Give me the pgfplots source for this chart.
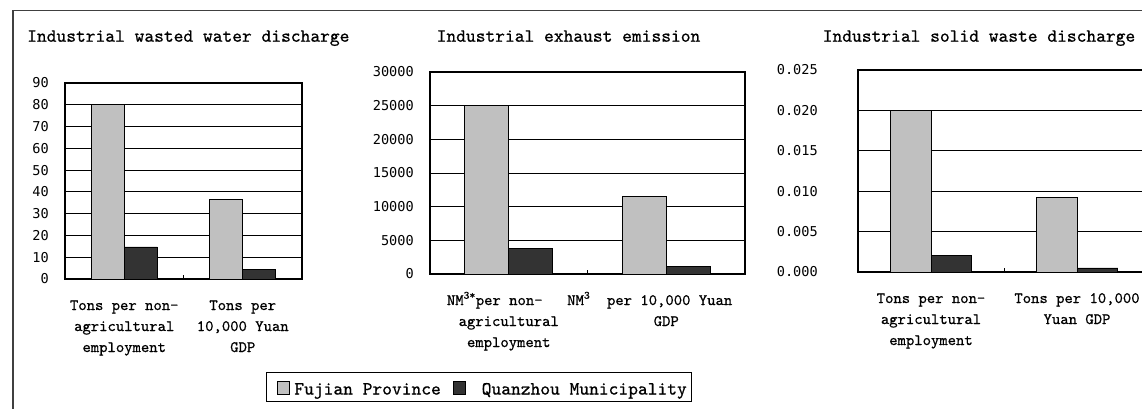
\documentclass[border=0pt]{standalone}
\usepackage{pgfplots}
\pgfplotsset{compat=1.18}
\usepackage{fontspec}
\newfontfamily\tickfont{DejaVu Sans Mono}
\newfontfamily\lmono{lmmono10-regular}[Extension=.otf, FakeBold=0.7]
\definecolor{fj}{HTML}{C0C0C0}
\definecolor{qz}{HTML}{333333}
\definecolor{framec}{HTML}{404040}
\newcommand{\lab}[1]{\begin{tabular}[t]{@{}c@{}}#1\end{tabular}}

\pgfplotsset{
  panel/.style={
    scale only axis,
    anchor=south west,
    ybar,
    bar width=0.28,
    xmin=-0.5, xmax=1.5,
    ymin=0,
    xtick={0,1},
    xtick pos=bottom,
    ytick pos=left,
    major tick length=0pt,
    extra x ticks={0.5},
    extra x tick labels={},
    extra x tick style={major tick length=4pt, tick align=inside, xmajorgrids=false, tick style={black, line width=1pt}},
    ymajorgrids,
    grid style={black, line width=0.9pt},
    axis line style={black, line width=1.1pt},
    scaled y ticks=false,
    yticklabel style={font=\fontsize{13.6}{16}\selectfont\tickfont, inner sep=0pt, anchor=east, xshift=-16pt},
    xticklabel style={font=\lmono\fontsize{15.9}{21}\selectfont, inner sep=0pt, anchor=base, yshift=-31pt},
    title style={font=\lmono\fontsize{18.6}{22}\selectfont, inner sep=0pt},
    clip=false,
  },
  fjbar/.style={fill=fj, draw=black, line width=0.9pt, bar shift=-0.14},
  qzbar/.style={fill=qz, draw=black, line width=0.9pt, bar shift=0.14},
}

\begin{document}
\begin{tikzpicture}
\useasboundingbox (0pt,0pt) rectangle (1142pt,408pt);
\fill[white] (0pt,0pt) rectangle (1142pt,408pt);
\draw[framec, line width=1.6pt] (12.7pt,-10pt) -- (12.7pt,397.5pt) -- (1160pt,397.5pt);

% Panel 1
\begin{axis}[panel,
  at={(65pt,129pt)}, width=237pt, height=196pt,
  ymax=90,
  ytick={0,10,...,90},
  yticklabels={0,10,20,30,40,50,60,70,80,90},
  xticklabels={{\lab{Tons per non-\\agricultural\\employment}},{\lab{Tons per\\10,000 Yuan\\GDP}}},
  title={Industrial wasted water discharge},
  title style={at={(-0.1603,1.180)}, anchor=base west},
]
\addplot[fjbar] coordinates {(0,80) (1,36.5)};
\addplot[qzbar] coordinates {(0,14.7) (1,4.5)};
\end{axis}

% Panel 2
\begin{axis}[panel,
  at={(430pt,134pt)}, width=315pt, height=202pt,
  ymax=30000,
  ytick={0,5000,...,30000},
  yticklabels={0,5000,10000,15000,20000,25000,30000},
  xticklabels={{\lab{NM\textsuperscript{3*}per non-\hspace*{28pt}\\agricultural\\employment}},{\lab{NM\textsuperscript{3}\ \ per 10,000 Yuan\hspace*{33pt}\\GDP}}},
  title={Industrial exhaust emission},
  title style={at={(0.4397,1.1203)}, anchor=base},
  legend columns=2,
  legend cell align=left,
  legend style={at={(-0.5206,-0.6337)}, anchor=south west, draw=black, line width=0.9pt,
    font=\lmono\fontsize{18.6}{22}\selectfont,
    inner xsep=5pt, inner ysep=3pt,
    nodes={inner sep=0pt, text height=19pt, text depth=4pt},
    /tikz/every odd column/.append style={column sep=4pt},
    /tikz/every even column/.append style={column sep=6pt}},
  legend image code/.code={\path (0pt,0pt); \draw[#1, draw=black, line width=0.9pt] (6pt,-7.5pt) rectangle (18pt,5.5pt);},
]
\addplot[fjbar] coordinates {(0,25000) (1,11500)};
\addplot[qzbar] coordinates {(0,3850) (1,1050)};
\legend{Fujian Province,\hspace*{12pt}Quanzhou Municipality}
\end{axis}

% Panel 3
\begin{axis}[panel,
  at={(858pt,136pt)}, width=292pt, height=202pt,
  ymax=0.025,
  ytick={0,0.005,0.01,0.015,0.02,0.025},
  yticklabels={0.000,0.005,0.010,0.015,0.020,0.025},
  yticklabel style={xshift=-24pt},
  xticklabels={{\lab{Tons per non-\\agricultural\\employment}},{\lab{Tons per 10,000\\Yuan GDP}}},
  title={Industrial solid waste discharge},
  title style={at={(0.4144,1.1104)}, anchor=base},
]
\addplot[fjbar] coordinates {(0,0.0200) (1,0.0092)};
\addplot[qzbar] coordinates {(0,0.0021) (1,0.0005)};
\end{axis}
\end{tikzpicture}
\end{document}
